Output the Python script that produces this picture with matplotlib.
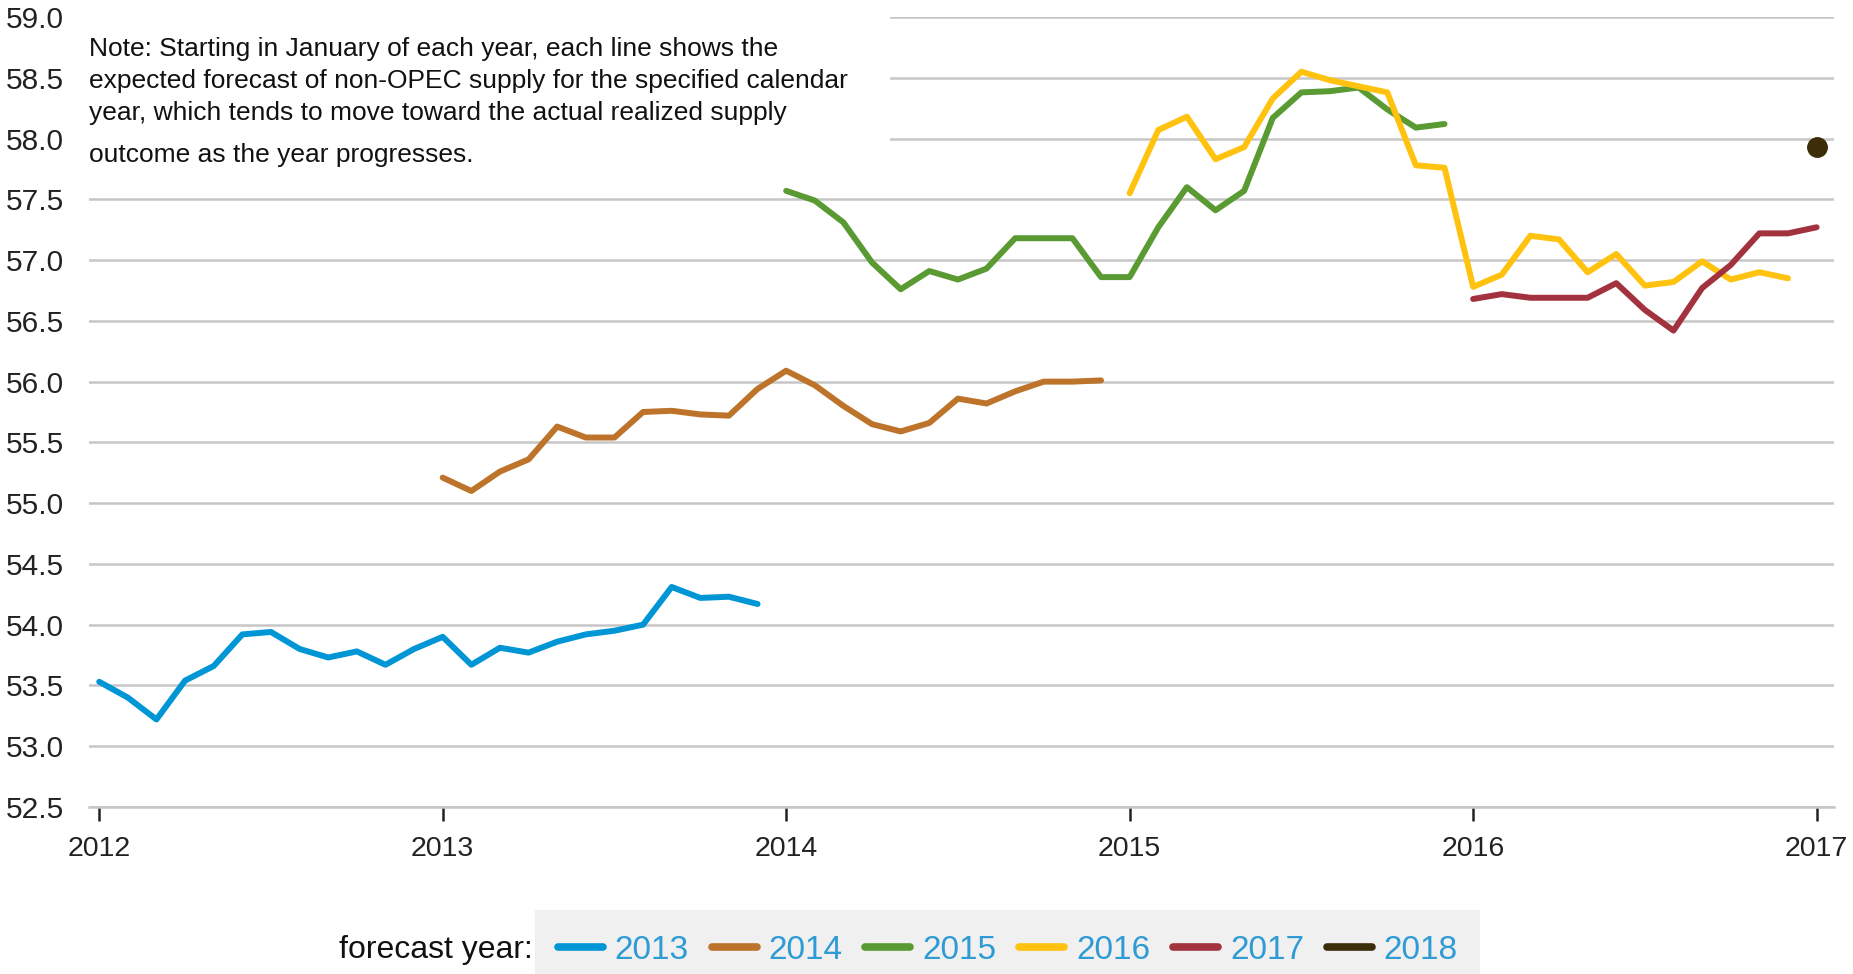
import matplotlib.pyplot as plt
from matplotlib.patches import Rectangle

plt.rcParams['font.family'] = ['Liberation Sans', 'DejaVu Sans']

# monthly forecasts of non-OPEC supply, each list starts in January of the given year
start_2013, s2013 = 2012, [53.53, 53.40, 53.22, 53.54, 53.66, 53.92, 53.94, 53.80, 53.73, 53.78, 53.67, 53.80,
                           53.90, 53.67, 53.81, 53.77, 53.86, 53.92, 53.95, 54.00, 54.31, 54.22, 54.23, 54.17]
start_2014, s2014 = 2013, [55.21, 55.10, 55.26, 55.36, 55.63, 55.54, 55.54, 55.75, 55.76, 55.73, 55.72, 55.94,
                           56.09, 55.97, 55.80, 55.65, 55.59, 55.66, 55.86, 55.82, 55.92, 56.00, 56.00, 56.01]
start_2015, s2015 = 2014, [57.57, 57.49, 57.31, 56.98, 56.76, 56.91, 56.84, 56.93, 57.18, 57.18, 57.18, 56.86,
                           56.86, 57.27, 57.60, 57.41, 57.57, 58.17, 58.38, 58.39, 58.42, 58.24, 58.09, 58.12]
start_2016, s2016 = 2015, [57.55, 58.07, 58.18, 57.83, 57.93, 58.33, 58.55, 58.48, 58.43, 58.38, 57.78, 57.76,
                           56.78, 56.88, 57.20, 57.17, 56.90, 57.05, 56.79, 56.82, 56.99, 56.84, 56.90, 56.85]
start_2017, s2017 = 2016, [56.68, 56.72, 56.69, 56.69, 56.69, 56.81, 56.59, 56.42, 56.77, 56.96, 57.22, 57.22,
                           57.27]
start_2018, s2018 = 2017, [57.93]

labels = ['2013', '2014', '2015', '2016', '2017', '2018']
colors = ['#0096D6', '#BD732A', '#5A9A32', '#FFC20E', '#A3323F', '#3D2E0A']
series = [(start_2013, s2013), (start_2014, s2014), (start_2015, s2015),
          (start_2016, s2016), (start_2017, s2017), (start_2018, s2018)]
years = [2012, 2013, 2014, 2015, 2016, 2017]
yticks = [52.5 + 0.5 * i for i in range(14)]

fig = plt.figure(figsize=(18.53, 9.74), dpi=100)
ax = fig.add_axes([0.0478, 0.1715, 0.9422, 0.811])

handles = []
for (start, vals), lab, col in zip(series, labels, colors):
    xs = [start + i / 12 for i in range(len(vals))]
    if len(vals) == 1:
        ax.plot(xs, vals, 'o', color=col, ms=14, zorder=3)
    ln, = ax.plot(xs, vals, color=col, lw=4.3, label=lab, zorder=3, solid_capstyle='round')
    handles.append(ln)

ax.set_xlim(2011.969, 2017.052)
ax.set_ylim(52.5, 59.0)
ax.set_yticks(yticks)
ax.set_yticklabels(['%.1f' % v for v in yticks])
ax.set_xticks(years)
ax.set_xticklabels([str(y) for y in years])
ax.grid(axis='y', color='#C6C6C6', lw=1.8)
ax.set_axisbelow(True)
for s in ['top', 'right', 'left']:
    ax.spines[s].set_visible(False)
ax.spines['bottom'].set_color('#C6C6C6')
ax.spines['bottom'].set_linewidth(1.8)
ax.tick_params(axis='y', length=0, pad=18, labelsize=21.5, labelcolor='#222222')
ax.tick_params(axis='x', length=10, width=1.8, color='#222222', pad=11, labelsize=20.5, labelcolor='#222222')
ax.patch.set_alpha(0)

# white box behind the note
ax.add_patch(Rectangle((-0.01, 0.797), 0.469, 0.25, transform=ax.transAxes,
                       facecolor='white', edgecolor='none', zorder=1.5, clip_on=False))
note = ["Note: Starting in January of each year, each line shows the",
        "expected forecast of non-OPEC supply for the specified calendar",
        "year, which tends to move toward the actual realized supply",
        "outcome as the year progresses."]
for line, yy in zip(note, [0.959, 0.919, 0.878, 0.825]):
    ax.text(0.0, yy, line, transform=ax.transAxes, fontsize=19, color='#111111',
            va='center', ha='left', zorder=4)

# legend strip
fig.patches.append(Rectangle((0.2887, 0.0), 0.510, 0.0657, transform=fig.transFigure,
                             facecolor='#F0F0F0', edgecolor='none', zorder=0))
fig.text(0.2875, 0.0245, 'forecast year:', fontsize=23, ha='right', va='center', color='#111111')
leg = fig.legend(handles=handles, labels=labels, loc='center left', bbox_to_anchor=(0.301, 0.0245),
                 ncol=6, frameon=False, fontsize=24, handlelength=1.35, handletextpad=0.36,
                 columnspacing=0.68, borderaxespad=0, borderpad=0)
for t in leg.get_texts():
    t.set_color('#2F9BD5')
for h in leg.legend_handles:
    h.set_linewidth(5.5)

fig.savefig('out.png', dpi=100)
